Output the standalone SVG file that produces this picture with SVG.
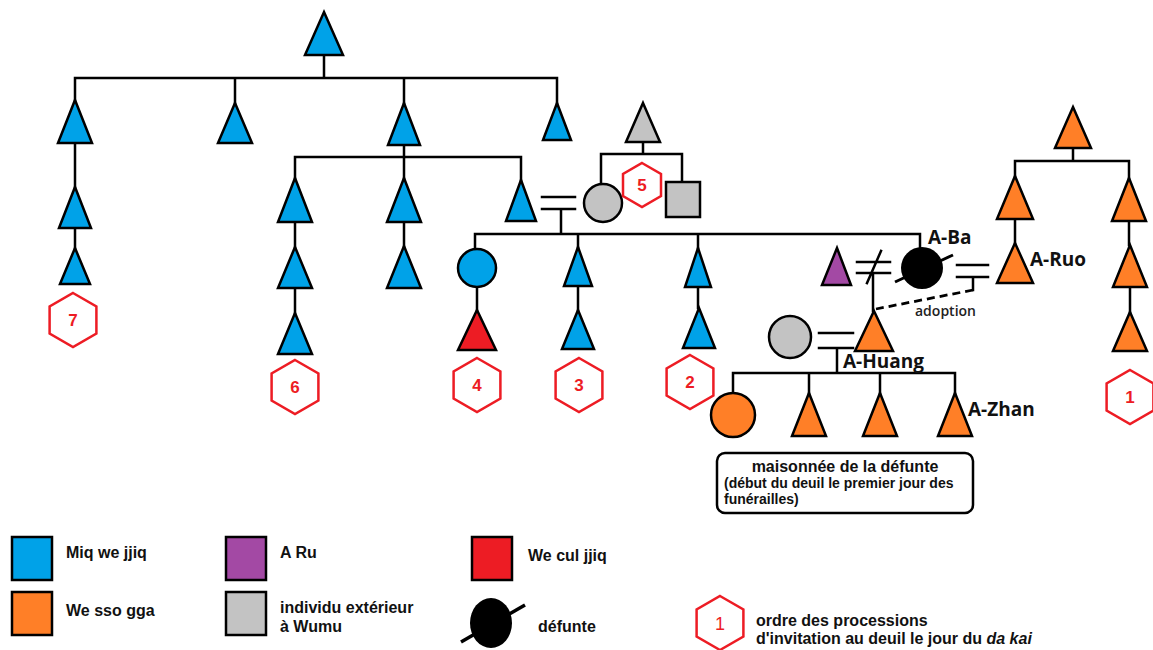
<svg xmlns="http://www.w3.org/2000/svg" xmlns:xlink="http://www.w3.org/1999/xlink" width="1153" height="650" viewBox="0 0 1153 650">
<style>
.ln{stroke:#000;stroke-width:2.5;fill:none;stroke-linecap:square}
.dash{stroke:#000;stroke-width:2.8;fill:none;stroke-dasharray:8,5}
.s{stroke:#000;stroke-width:2.5;stroke-linejoin:miter}
.b{fill:#00A2E8}
.o{fill:#FF7F27}
.g{fill:#C3C3C3}
.p{fill:#A349A4}
.r{fill:#ED1C24}
.k{fill:#000}
.hx{fill:#fff;stroke:#ED1C24;stroke-width:2.5}
.hn{font-family:"Liberation Sans",Arial,sans-serif;font-weight:bold;font-size:17px;fill:#ED1C24;text-anchor:middle}
.lbl{font-family:"Open Sans","Liberation Sans",sans-serif;font-weight:bold;font-size:19px;fill:#111}
.ad{font-family:"Open Sans","Liberation Sans",sans-serif;font-weight:600;font-size:14px;fill:#222}
.bx{font-family:"Liberation Sans",Arial,sans-serif;font-weight:bold;fill:#111}
.lg{font-family:"Liberation Sans",Arial,sans-serif;font-weight:bold;font-size:16px;fill:#111}
</style>
<defs>
<polygon id="hex" points="0,-27 23.4,-13.5 23.4,13.5 0,27 -23.4,13.5 -23.4,-13.5"/>
</defs>
<rect width="1153" height="650" fill="#fff"/>

<g id="connectors">
<path class="ln" d="M324,55V78 M75,78H557 M75,78V100 M235,78V103 M404,78V103 M557,78V103"/>
<path class="ln" d="M75,143V187 M75,228V248"/>
<path class="ln" d="M404,145V178 M295,157H521 M295,157V178 M521,157V180 M295,222V247 M295,288V313 M404,222V246"/>
<path class="ln" d="M542,197H575 M542,209H575 M561,209V234 M475,234H920 M475,234V249 M578,234V247 M698,234V248 M920,234V247"/>
<path class="ln" d="M477,287V310 M578,286V310 M698,287V308"/>
<path class="ln" d="M643,142V154 M601,154H682 M601,154V184 M682,154V182"/>
<path class="ln" d="M857,262H890 M857,273H890 M867,283L881,251 M873,273V311"/>
<path class="ln" d="M957,265H988 M957,277H988 M973,277V290"/>
<path class="dash" d="M973,290L876,309"/>
<path class="ln" d="M1073,148V161 M1015,161H1129 M1015,161V176 M1129,161V178 M1015,219V243 M1129,221V245 M1130,287V312"/>
<path class="ln" d="M819,333H853 M819,348H853 M837,348V373 M733,373H955 M733,373V393 M809,373V393 M880,373V393 M955,373V393"/>
</g>

<g id="n-top"><polygon class="s b" points="324,12 343,55 305,55"/></g>
<g id="n-g2a"><polygon class="s b" points="75,100 92,143 58,143"/></g>
<g id="n-g2b"><polygon class="s b" points="235,103 252,143 218,143"/></g>
<g id="n-g2c"><polygon class="s b" points="404,103 420,145 388,145"/></g>
<g id="n-g2d"><polygon class="s b" points="557,103 571,140 543,140"/></g>
<g id="n-a3"><polygon class="s b" points="75,187 91,228 59,228"/></g>
<g id="n-a4"><polygon class="s b" points="75,248 90,284 60,284"/></g>
<g id="h7"><use xlink:href="#hex" x="73" y="320" class="hx"/><text class="hn" x="73" y="326">7</text></g>

<g id="n-c1"><polygon class="s b" points="295,178 312,222 278,222"/></g>
<g id="n-c2"><polygon class="s b" points="295,247 312,288 278,288"/></g>
<g id="n-c3"><polygon class="s b" points="295,313 312,354 278,354"/></g>
<g id="h6"><use xlink:href="#hex" x="295" y="387" class="hx"/><text class="hn" x="295" y="393">6</text></g>
<g id="n-d1"><polygon class="s b" points="404,178 421,222 387,222"/></g>
<g id="n-d2"><polygon class="s b" points="404,246 421,288 387,288"/></g>
<g id="n-e1"><polygon class="s b" points="521,180 536,221 506,221"/></g>

<g id="n-spouse"><circle class="s g" cx="603" cy="203" r="19"/></g>
<g id="n-spfather"><polygon class="s g" points="643,103 660,142 626,142"/></g>
<g id="n-spbrother"><rect class="s g" x="666" y="182" width="34" height="35"/></g>
<g id="h5"><polygon class="hx" points="642,163 661,174 661,196 642,207 623,196 623,174"/><text class="hn" x="642" y="191">5</text></g>

<g id="n-f1"><circle class="s b" cx="477" cy="268" r="19"/></g>
<g id="n-f2"><polygon class="s r" points="477,310 496,350 458,350"/></g>
<g id="h4"><use xlink:href="#hex" x="477" y="385" class="hx"/><text class="hn" x="477" y="391">4</text></g>
<g id="n-g1"><polygon class="s b" points="578,247 592,286 564,286"/></g>
<g id="n-g2"><polygon class="s b" points="578,310 594,349 562,349"/></g>
<g id="h3"><use xlink:href="#hex" x="579" y="385" class="hx"/><text class="hn" x="579" y="391">3</text></g>
<g id="n-h1"><polygon class="s b" points="698,248 711,287 685,287"/></g>
<g id="n-h2"><polygon class="s b" points="699,308 715,348 683,348"/></g>
<g id="h2"><use xlink:href="#hex" x="690" y="382" class="hx"/><text class="hn" x="690" y="388">2</text></g>

<g id="n-aru"><polygon class="s p" points="837,248 851,285 822,285"/></g>
<g id="n-aba"><circle class="k" cx="922" cy="268" r="21"/><line x1="895" y1="282" x2="953" y2="255" stroke="#000" stroke-width="3"/><text class="lbl" x="928" y="244">A-Ba</text></g>
<g id="n-ahuang"><polygon class="s o" points="874,311 893,351 855,351"/><text class="lbl" x="843" y="368" font-size="20">A-Huang</text></g>
<g id="n-wife"><circle class="s g" cx="790" cy="337" r="21"/></g>
<text class="ad" x="915" y="316">adoption</text>

<g id="n-k1"><circle class="s o" cx="733" cy="415" r="22"/></g>
<g id="n-k2"><polygon class="s o" points="809,393 826,436 792,436"/></g>
<g id="n-k3"><polygon class="s o" points="880,393 897,436 863,436"/></g>
<g id="n-azhan"><polygon class="s o" points="955,393 972,436 938,436"/><text class="lbl" x="968" y="416" font-size="19.5">A-Zhan</text></g>

<g id="n-otop"><polygon class="s o" points="1073,107 1091,148 1055,148"/></g>
<g id="n-ol1"><polygon class="s o" points="1015,176 1033,219 997,219"/></g>
<g id="n-aruo"><polygon class="s o" points="1015,243 1033,283 997,283"/><text class="lbl" x="1030" y="266">A-Ruo</text></g>
<g id="n-or1"><polygon class="s o" points="1129,178 1146,221 1112,221"/></g>
<g id="n-or2"><polygon class="s o" points="1130,245 1147,287 1113,287"/></g>
<g id="n-or3"><polygon class="s o" points="1130,312 1147,351 1113,351"/></g>
<g id="h1"><use xlink:href="#hex" x="1130" y="397" class="hx"/><text class="hn" x="1130" y="403">1</text></g>

<g id="household">
<rect x="717" y="453" width="256" height="60" rx="8" fill="#fff" stroke="#000" stroke-width="2.5"/>
<text class="bx" x="845" y="472" font-size="16" text-anchor="middle">maisonnée de la défunte</text>
<text class="bx" x="724" y="488" font-size="14">(début du deuil le premier jour des</text>
<text class="bx" x="724" y="504" font-size="14">funérailles)</text>
</g>

<g id="legend">
<rect class="s b" x="12" y="537" width="40" height="43"/>
<text class="lg" x="66" y="558">Miq we jjiq</text>
<rect class="s o" x="12" y="592" width="40" height="43"/>
<text class="lg" x="66" y="616">We sso gga</text>
<rect class="s p" x="226" y="537" width="40" height="43"/>
<text class="lg" x="280" y="558">A Ru</text>
<rect class="s g" x="226" y="592" width="40" height="43"/>
<text class="lg" x="280" y="613">individu extérieur</text>
<text class="lg" x="280" y="632">à Wumu</text>
<rect class="s r" x="472" y="537" width="40" height="43"/>
<text class="lg" x="528" y="561">We cul jjiq</text>
<ellipse class="k" cx="491" cy="623" rx="21" ry="25"/>
<line x1="461" y1="642" x2="525" y2="605" stroke="#000" stroke-width="3.5"/>
<text class="lg" x="538" y="632">défunte</text>
<use xlink:href="#hex" x="720" y="623" class="hx"/>
<text x="720" y="630" class="hn" style="font-weight:normal;font-size:18px">1</text>
<text class="lg" x="756" y="626">ordre des processions</text>
<text class="lg" x="756" y="644">d'invitation au deuil le jour du <tspan font-style="italic">da kai</tspan></text>
</g>
</svg>
